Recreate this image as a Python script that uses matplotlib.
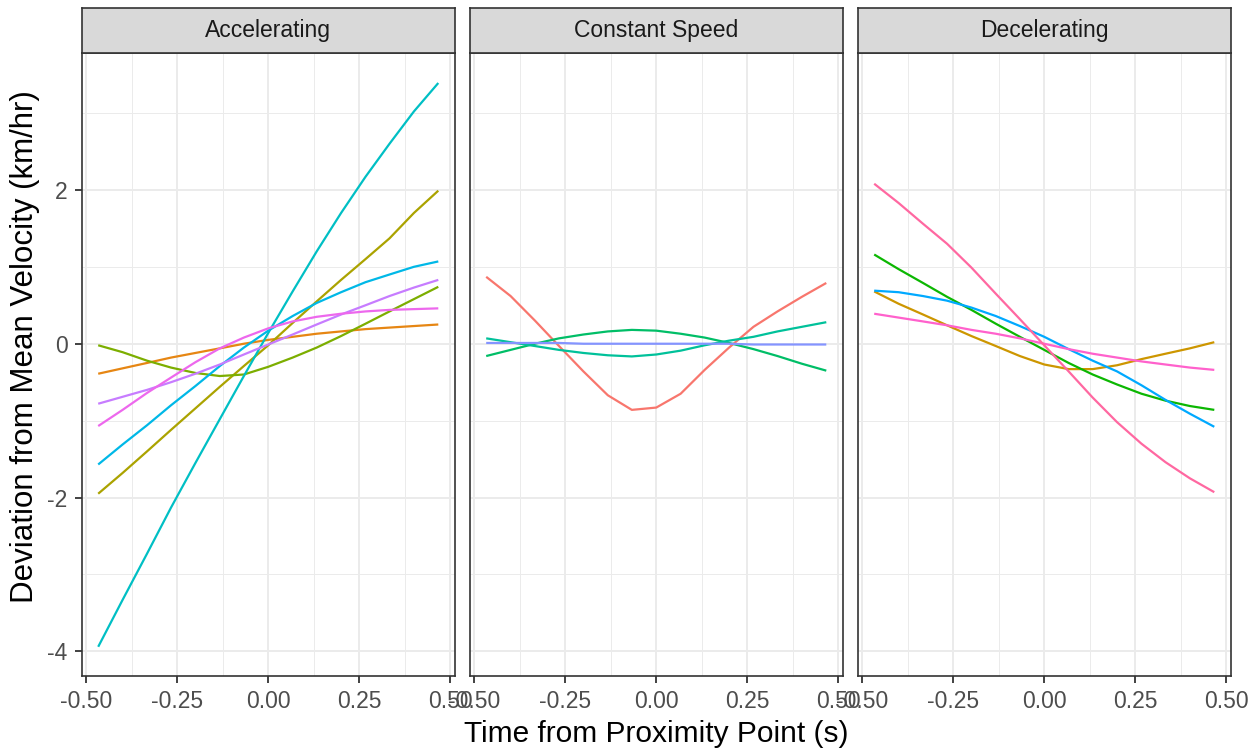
import matplotlib
matplotlib.use("Agg")
import matplotlib.pyplot as plt
from matplotlib.ticker import FixedLocator

plt.rcParams['font.family'] = ['Liberation Sans', 'DejaVu Sans']

# time points (s)
time_s = [-0.467, -0.400, -0.333, -0.267, -0.200, -0.133, -0.067, 0.0,
          0.067, 0.133, 0.200, 0.267, 0.333, 0.400, 0.467]

facets = ["Accelerating", "Constant Speed", "Decelerating"]

# Accelerating
acc_teal   = [-3.94, -3.33, -2.73, -2.13, -1.55, -0.98, -0.42, 0.14, 0.68, 1.20, 1.70, 2.17, 2.60, 3.02, 3.39]
acc_olive  = [-1.95, -1.68, -1.40, -1.12, -0.84, -0.56, -0.29, -0.02, 0.27, 0.55, 0.83, 1.10, 1.37, 1.70, 1.99]
acc_blue   = [-1.57, -1.31, -1.06, -0.80, -0.55, -0.29, -0.05, 0.17, 0.36, 0.53, 0.67, 0.80, 0.90, 1.00, 1.07]
acc_purple = [-0.78, -0.69, -0.60, -0.50, -0.39, -0.27, -0.14, -0.01, 0.12, 0.25, 0.38, 0.50, 0.62, 0.73, 0.83]
acc_magenta= [-1.07, -0.86, -0.64, -0.44, -0.24, -0.06, 0.08, 0.20, 0.29, 0.35, 0.39, 0.42, 0.44, 0.45, 0.46]
acc_green  = [-0.02, -0.11, -0.22, -0.31, -0.38, -0.42, -0.40, -0.30, -0.18, -0.05, 0.10, 0.26, 0.42, 0.58, 0.74]
acc_orange = [-0.39, -0.32, -0.25, -0.18, -0.12, -0.06, 0.00, 0.05, 0.09, 0.13, 0.16, 0.19, 0.21, 0.23, 0.25]

# Constant speed
con_red    = [0.87, 0.62, 0.30, -0.03, -0.36, -0.67, -0.86, -0.83, -0.65, -0.34, -0.05, 0.22, 0.42, 0.61, 0.79]
con_green  = [-0.16, -0.08, 0.00, 0.07, 0.12, 0.16, 0.18, 0.17, 0.13, 0.08, 0.01, -0.07, -0.16, -0.26, -0.35]
con_teal   = [0.07, 0.02, -0.03, -0.08, -0.12, -0.15, -0.165, -0.14, -0.09, -0.02, 0.04, 0.09, 0.16, 0.22, 0.28]
con_violet = [0.01, 0.01, 0.01, 0.01, 0.00, 0.00, 0.00, 0.00, 0.00, 0.00, 0.00, -0.01, -0.01, -0.01, -0.01]

# Decelerating
dec_rose   = [2.08, 1.83, 1.56, 1.30, 0.99, 0.65, 0.32, -0.02, -0.36, -0.70, -1.02, -1.30, -1.54, -1.75, -1.93]
dec_green  = [1.16, 0.97, 0.79, 0.61, 0.44, 0.26, 0.09, -0.08, -0.25, -0.40, -0.53, -0.65, -0.74, -0.81, -0.86]
dec_blue   = [0.69, 0.67, 0.62, 0.56, 0.47, 0.36, 0.23, 0.09, -0.07, -0.22, -0.36, -0.54, -0.73, -0.91, -1.08]
dec_gold   = [0.68, 0.52, 0.38, 0.24, 0.10, -0.03, -0.16, -0.27, -0.33, -0.33, -0.28, -0.20, -0.13, -0.06, 0.02]
dec_pink   = [0.39, 0.34, 0.29, 0.24, 0.18, 0.13, 0.07, 0.00, -0.07, -0.13, -0.18, -0.23, -0.27, -0.31, -0.34]

panel_series = [
    [(acc_orange, "#E68613"), (acc_olive, "#ABA300"), (acc_green, "#7CAE00"),
     (acc_teal, "#00BFC4"), (acc_blue, "#00B8E7"), (acc_purple, "#C77CFF"),
     (acc_magenta, "#ED68ED")],
    [(con_red, "#F8766D"), (con_green, "#00BE67"), (con_teal, "#00C19A"),
     (con_violet, "#8494FF")],
    [(dec_gold, "#CD9600"), (dec_green, "#0CB702"), (dec_blue, "#00A9FF"),
     (dec_pink, "#FF61CC"), (dec_rose, "#FF68A1")],
]

x_ticks = [-0.50, -0.25, 0.00, 0.25, 0.50]
x_tick_labels = ["-0.50", "-0.25", "0.00", "0.25", "0.50"]
y_ticks = [-4, -2, 0, 2]
y_tick_labels = ["-4", "-2", "0", "2"]

W, H = 1257, 751
fig = plt.figure(figsize=(W / 100, H / 100), dpi=100)

lefts = [82, 470, 858]
pw = 372.5
top_px, bot_px = 53, 676
strip_top = 7.5

for i, (name, series) in enumerate(zip(facets, panel_series)):
    l = lefts[i]
    ax = fig.add_axes([l / W, (H - bot_px) / H, pw / W, (bot_px - top_px) / H])
    for vals, col in series:
        ax.plot(time_s, vals, color=col, lw=1.6, solid_capstyle='butt', zorder=3)
    ax.set_xlim(-0.5115, 0.5115)
    ax.set_ylim(-4.32, 3.78)
    ax.set_xticks(x_ticks)
    ax.set_xticklabels(x_tick_labels)
    ax.set_yticks(y_ticks)
    ax.xaxis.set_minor_locator(FixedLocator([-0.375, -0.125, 0.125, 0.375]))
    ax.yaxis.set_minor_locator(FixedLocator([-3, -1, 1, 3]))
    ax.grid(True, which='major', color='#EBEBEB', lw=1.4, zorder=0)
    ax.grid(True, which='minor', color='#EBEBEB', lw=0.7, zorder=0)
    ax.set_axisbelow(True)
    ax.tick_params(which='major', length=5.3, width=1.3, color='#333333',
                   labelsize=16.5, labelcolor='#4D4D4D', pad=5.0)
    ax.tick_params(which='minor', length=0)
    if i == 0:
        ax.set_yticklabels(y_tick_labels)
    else:
        ax.tick_params(axis='y', which='major', length=0, labelleft=False)
    for sp in ax.spines.values():
        sp.set_color('#333333')
        sp.set_linewidth(1.2)
    # strip
    sax = fig.add_axes([l / W, (H - top_px) / H, pw / W, (top_px - strip_top) / H])
    sax.set_facecolor('#D9D9D9')
    sax.set_xticks([])
    sax.set_yticks([])
    for sp in sax.spines.values():
        sp.set_color('#333333')
        sp.set_linewidth(1.2)
    sax.text(0.5, 0.5, name, transform=sax.transAxes, ha='center', va='center',
             fontsize=16.5, color='#1A1A1A')

fig.text(656 / W, 1 - 741.5 / H, "Time from Proximity Point (s)", ha='center',
         va='baseline', fontsize=21.5, color='black')
fig.text(25 / W, 1 - 347 / H, "Deviation from Mean Velocity (km/hr)", ha='center',
         va='center', rotation=90, fontsize=22.5, color='black')

fig.savefig("out.png", dpi=100, facecolor='white')
